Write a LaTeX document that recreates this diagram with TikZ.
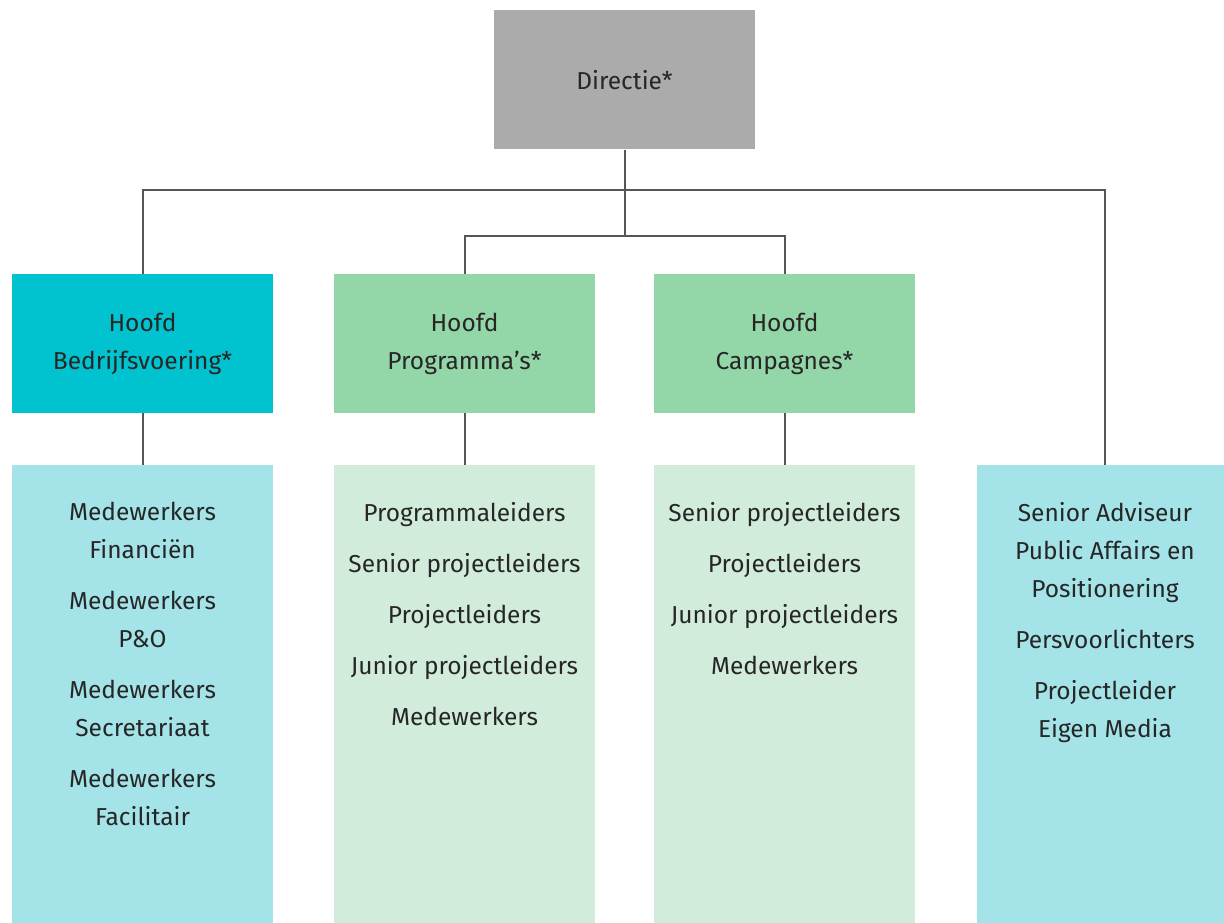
\documentclass[tikz,border=0pt]{standalone}
\usepackage{fontspec}
\setmainfont{Fira Sans}
\definecolor{directie}{HTML}{ABABAB}
\definecolor{hoofdblauw}{HTML}{00C3CF}
\definecolor{hoofdgroen}{HTML}{93D6A8}
\definecolor{lichtblauw}{HTML}{A4E4E8}
\definecolor{lichtgroen}{HTML}{D2ECDC}
\definecolor{lijngrijs}{HTML}{555555}
\tikzset{
  hoofd/.style={minimum width=261pt, minimum height=139pt, inner sep=0pt, align=center,
    font=\fontsize{24.5}{38}\selectfont, text=black!85},
  staf/.style={anchor=north, minimum width=261pt, minimum height=470pt, inner sep=0pt},
  taken/.style={anchor=north, align=center, inner sep=0pt,
    font=\fontsize{24.5}{38}\selectfont, text=black!85},
  lijn/.style={draw=lijngrijs, line width=2pt}
}
\begin{document}
\begin{tikzpicture}[x=1pt,y=-1pt]
\useasboundingbox (0,0) rectangle (1224,923);
% top
\node[hoofd, fill=directie] (dir) at (624.5,80) {Directie*};
% heads
\node[hoofd, fill=hoofdblauw] (bv) at (142.5,343.5) {Hoofd\\Bedrijfsvoering*};
\node[hoofd, fill=hoofdgroen] (prog) at (464.5,343.5) {Hoofd\\Programma's*};
\node[hoofd, fill=hoofdgroen] (camp) at (784.5,343.5) {Hoofd\\Campagnes*};
% staff
\node[staf, fill=lichtblauw] (sbv) at (142.5,465) {};
\node[staf, fill=lichtgroen] (sprog) at (464.5,465) {};
\node[staf, fill=lichtgroen] (scamp) at (784.5,465) {};
\node[staf, fill=lichtblauw, minimum width=256pt] (pa) at (1105,465) {};
\node[taken] at ([yshift=-37pt]sbv.north) {Medewerkers\\Financiën\\[13pt]
  Medewerkers\\P\&O\\[13pt]Medewerkers\\Secretariaat\\[13pt]Medewerkers\\Facilitair};
\node[taken] at ([yshift=-37pt]sprog.north) {Programmaleiders\\[13pt]Senior projectleiders\\[13pt]
  Projectleiders\\[13pt]Junior projectleiders\\[13pt]Medewerkers};
\node[taken] at ([yshift=-37pt]scamp.north) {Senior projectleiders\\[13pt]Projectleiders\\[13pt]
  Junior projectleiders\\[13pt]Medewerkers};
\node[taken] at ([yshift=-37pt]pa.north) {Senior Adviseur\\Public Affairs en\\Positionering\\[13pt]
  Persvoorlichters\\[13pt]Projectleider\\Eigen Media};
% connectors
\coordinate (split) at (624.5,190);
\coordinate (fork) at (624.5,236);
\draw[lijn] (dir.south) -- (fork);
\draw[lijn] (bv.north) |- (split) -| (pa.north);
\draw[lijn] (prog.north) |- (fork) -| (camp.north);
\draw[lijn] (bv) -- (sbv);
\draw[lijn] (prog) -- (sprog);
\draw[lijn] (camp) -- (scamp);
\end{tikzpicture}
\end{document}
